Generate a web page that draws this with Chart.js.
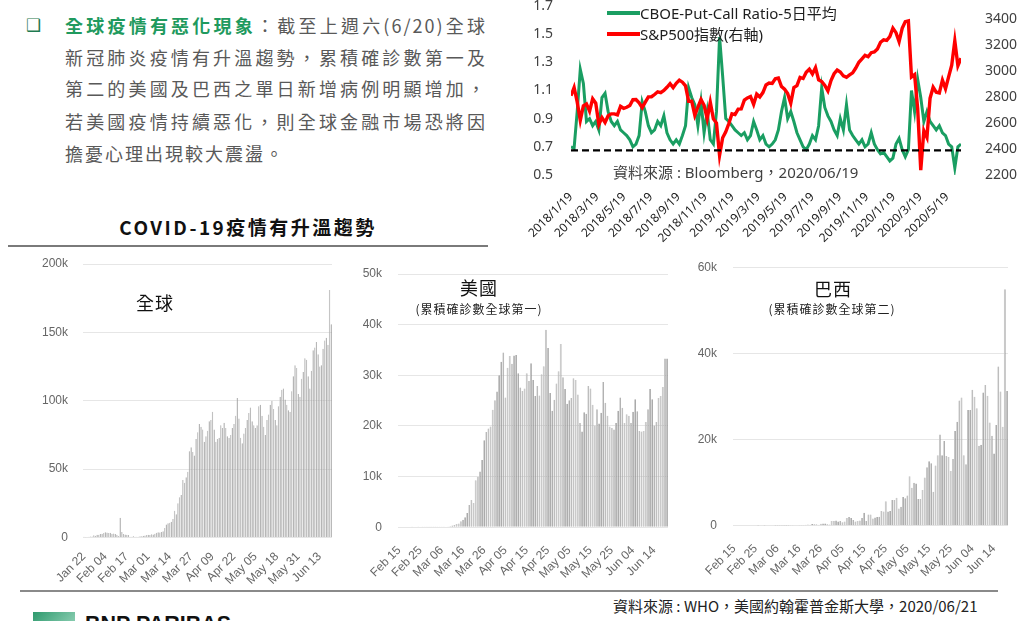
<!DOCTYPE html>
<html><head><meta charset="utf-8">
<script src="https://cdn.jsdelivr.net/npm/chart.js@4.4.1/dist/chart.umd.min.js"></script>
<style>
html,body{margin:0;padding:0;background:#fff;}
body{width:1024px;height:621px;position:relative;overflow:hidden;font-family:"Noto Sans CJK TC","Noto Sans",sans-serif;}
.abs{position:absolute;white-space:nowrap;}
canvas{position:absolute;}
.para{position:absolute;left:65px;width:422px;font-size:18px;letter-spacing:2px;color:#595959;line-height:24px;height:24px;overflow:visible;}
.just{text-align:justify;text-align-last:justify;}
.green{color:#1f9a5e;font-weight:bold;}
.leg{position:absolute;font-family:"Noto Sans","Noto Sans CJK TC",sans-serif;font-size:15px;color:#1e1e1e;line-height:20px;white-space:nowrap;}
.sw{position:absolute;height:4px;width:33px;}
.ctitle{position:absolute;font-size:18px;letter-spacing:1px;color:#111;line-height:24px;white-space:nowrap;transform:translateX(-50%);}
.csub{position:absolute;font-size:12px;letter-spacing:1px;color:#222;line-height:16px;white-space:nowrap;transform:translateX(-50%);}
</style></head>
<body>
<!-- left text -->
<div class="abs" style="left:26px;top:12px;font-size:17px;line-height:26px;color:#1f7a50;font-family:'DejaVu Sans',sans-serif;">❑</div>
<div class="para just" style="top:13px;"><span class="green">全球疫情有惡化現象</span>：截至上週六(6/20)全球</div>
<div class="para just" style="top:45px;">新冠肺炎疫情有升溫趨勢，累積確診數第一及</div>
<div class="para just" style="top:76px;">第二的美國及巴西之單日新增病例明顯增加，</div>
<div class="para just" style="top:109px;">若美國疫情持續惡化，則全球金融市場恐將因</div>
<div class="para" style="top:141px;">擔憂心理出現較大震盪。</div>

<div class="abs" style="left:248px;top:214px;transform:translateX(-50%);font-size:19px;font-weight:bold;letter-spacing:2.5px;color:#111;line-height:26px;">COVID-19疫情有升溫趨勢</div>
<div class="abs" style="left:8px;top:245px;width:480px;height:1.5px;background:#7a7a7a;"></div>

<!-- top right chart -->
<canvas id="pc" width="504" height="253" style="left:520px;top:-3px;"></canvas>
<div class="sw" style="left:607px;top:11px;background:#1a9e62;"></div>
<div class="leg" style="left:640px;top:3px;">CBOE-Put-Call Ratio-5日平均</div>
<div class="sw" style="left:607px;top:32px;background:#ff0000;"></div>
<div class="leg" style="left:640px;top:24px;">S&amp;P500指數(右軸)</div>
<div class="leg" style="left:613px;top:162px;color:#404040;">資料來源 : Bloomberg，2020/06/19</div>

<!-- covid charts -->
<canvas id="g" width="312" height="336" style="left:28px;top:252px;"></canvas>
<canvas id="us" width="333" height="318" style="left:343px;top:262px;"></canvas>
<canvas id="br" width="338" height="325" style="left:678px;top:255px;"></canvas>

<div class="ctitle" style="left:155px;top:290px;">全球</div>
<div class="ctitle" style="left:479px;top:275px;">美國</div>
<div class="csub" style="left:479px;top:301px;">(累積確診數全球第一)</div>
<div class="ctitle" style="left:833px;top:276px;">巴西</div>
<div class="csub" style="left:832px;top:301px;">(累積確診數全球第二)</div>

<div class="abs" style="left:20px;top:590px;width:978px;height:1.5px;background:#8a8a8a;"></div>
<div class="abs" style="left:613px;top:596px;font-size:15px;line-height:20px;color:#222;">資料來源 : WHO，美國約翰霍普金斯大學，2020/06/21</div>

<div class="abs" style="left:33px;top:612px;width:42px;height:14px;background:linear-gradient(135deg,#2f9a6e,#8fd0b5);"></div>
<div class="abs" style="left:85px;top:613px;font-family:'Liberation Sans',sans-serif;font-weight:bold;font-size:21.5px;line-height:22px;color:#111;">BNP PARIBAS</div>

<script>
// ================= DATA =================
// Top-right chart: weekly samples starting 2018/1/19
const pcStartDate = [2018, 1, 19];
const pcTickLabels = ['2018/1/19','2018/3/19','2018/5/19','2018/7/19','2018/9/19','2018/11/19','2019/1/19','2019/3/19','2019/5/19','2019/7/19','2019/9/19','2019/11/19','2020/1/19','2020/3/19','2020/5/19'];
const pcLeftTicks = [0.5, 0.7, 0.9, 1.1, 1.3, 1.5, 1.7];
const spRightTicks = [2200, 2400, 2600, 2800, 3000, 3200, 3400];
const putCallRatio = [
 0.70,0.69,0.95,1.25,1.15,0.88,0.90,0.85,0.88,0.82,
 1.05,1.08,0.95,0.88,0.85,0.88,0.82,0.80,0.78,0.75,
 0.70,0.72,0.78,1.02,0.95,0.85,0.80,0.82,0.88,0.85,
 0.92,0.80,0.75,0.72,0.75,0.72,0.78,0.85,1.12,1.05,
 1.00,0.85,1.02,0.80,0.95,0.75,0.72,0.95,1.48,1.20,
 0.90,0.88,0.85,0.82,0.80,0.78,0.80,0.75,0.78,0.88,
 0.82,0.75,0.78,0.72,0.70,0.72,0.75,0.82,0.95,1.05,
 0.90,0.95,0.88,0.80,0.75,0.70,0.68,0.72,0.78,0.75,
 0.85,1.12,0.98,0.92,0.88,0.82,0.78,0.90,0.82,1.00,
 0.82,0.78,0.75,0.72,0.75,0.70,0.72,0.80,0.72,0.68,
 0.65,0.66,0.63,0.60,0.62,0.72,0.76,0.68,0.63,0.68,
 1.10,0.95,1.18,1.05,0.88,0.95,0.88,0.85,0.82,0.85,
 0.80,0.78,0.72,0.70,0.55,0.70,0.72
];
const sp500 = [
 2810,2873,2762,2620,2732,2747,2691,2786,2752,2588,
 2641,2604,2656,2670,2670,2663,2728,2713,2721,2735,
 2779,2780,2755,2718,2760,2801,2802,2819,2840,2833,
 2850,2875,2902,2872,2905,2930,2914,2886,2767,2768,
 2659,2723,2781,2736,2633,2760,2633,2600,2351,2486,
 2532,2596,2671,2665,2707,2708,2776,2793,2804,2743,
 2822,2801,2834,2893,2907,2905,2940,2946,2881,2860,
 2826,2752,2873,2887,2950,2942,2990,3014,2977,3026,
 2932,2919,2889,2847,2926,2979,3007,2992,2962,2952,
 2970,2986,3023,3067,3093,3120,3110,3141,3146,3169,
 3221,3240,
 3235,3265,3330,3295,3226,3328,3380,3386,2954,2972,
 2711,2237,2541,2489,2790,2875,2837,2831,2930,2864,
 2955,3044,3232,3041,3098
];
const putCallBaseline = 0.675;

// COVID daily new cases (thousands)
const globalStart = '2020-01-22';
const globalTickLabels = ['Jan 22','Feb 04','Feb 17','Mar 01','Mar 14','Mar 27','Apr 09','Apr 22','May 05','May 18','May 31','Jun 13'];
const globalYTicks = [0, 50, 100, 150, 200];
const globalNewCases = [
 0.6,0.1,0.3,0.5,0.7,0.8,1.7,1.2,2.0,2.1,
 2.6,2.8,3.2,3.9,3.7,3.2,3.4,2.7,3.0,2.5,
 2.0,1.1,14.5,4.0,2.5,2.2,2.0,1.8,0.6,0.6,
 1.0,0.5,0.6,0.6,0.9,1.0,1.3,1.4,1.8,2.0,
 1.9,2.4,2.2,2.7,3.5,3.9,3.6,4.0,4.5,7.0,
 9.5,10.5,10.8,11.5,13.5,19.5,17.0,25.0,29.5,31.0,
 42,40,44,48,63,66,62.5,60,72,77,
 83,81,79,70,74,78,85,86,92,79,
 70,72,73,82,80,84,80,74,73,75,
 80,83,89,102,87,73,69,76,80,86,
 91,95,85,82,80,82,96,97,89,81,
 75,86,90,97,100,94,86,82,96,103,
 108,109,101,97,93,92,107,118,126,124,
 105,103,116,121,131,130,118,109,122,137,
 139,143,134,125,126,138,144,146,141,181,
 156
];
const countryStart = '2020-02-15';
const countryTickLabels = ['Feb 15','Feb 25','Mar 06','Mar 16','Mar 26','Apr 05','Apr 15','Apr 25','May 05','May 15','May 25','Jun 04','Jun 14'];
const usYTicks = [0, 10, 20, 30, 40, 50];
const usNewCases = [
 0,0,0,0,0,0,0.002,0,0,0.036,
 0,0.006,0.001,0.002,0.008,0.007,0.023,0.019,0.033,0.077,
 0.053,0.166,0.116,0.075,0.188,0.365,0.439,0.633,0.759,1.2,
 1.5,2.0,2.8,4.4,5.4,4.8,9.3,10.0,11.0,13.3,
 17.2,18.8,19.5,19.9,23.2,25.1,26.8,30.0,32.7,34.5,
 25.6,31.5,33.8,32.3,33.9,34.0,30.4,27.6,26.9,27.4,
 30.4,28.9,32.4,29.1,25.9,27.9,26.0,30.2,31.8,39.0,
 35.4,26.5,23.0,25.2,28.4,30.8,36.2,29.6,27.3,24.4,
 25.1,25.5,29.4,29.1,26.2,20.6,18.9,22.7,22.4,27.9,
 27.4,24.2,20.1,23.3,20.5,22.6,28.7,24.6,22.0,19.9,
 19.6,19.3,20.6,23.0,25.6,23.6,20.6,22.3,22.0,20.6,
 22.8,25.3,22.9,19.0,18.9,19.0,20.8,23.3,27.3,25.3,
 20.1,20.8,25.5,25.9,27.7,33.3,33.3
];
const brYTicks = [0, 20, 40, 60];
const brazilNewCases = [
 0,0,0,0,0,0,0,0,0,0,
 0,0.001,0,0,0.001,0,0,0,0,0.001,
 0.005,0.006,0.006,0.012,0.005,0.009,0.018,0.021,0,0.079,
 0.034,0.057,0.137,0.193,0.283,0.224,0.418,0.345,0.31,0.232,
 0.482,0.502,0.5,0.35,0.3,1.1,1.1,1.2,1.0,1.1,
 0.8,1.0,1.8,2.0,1.8,1.3,1.0,1.1,1.2,1.8,
 3.0,1.1,2.6,2.6,1.7,1.9,2.0,2.1,3.4,3.3,
 5.7,3.3,3.4,6.0,6.0,6.5,4.0,4.4,6.7,6.4,
 7.0,11.5,8.8,10.0,9.8,6.2,6.2,8.3,11.2,13.6,
 15.0,14.5,7.9,14.0,16.4,21.2,16.4,19.7,16.2,16.0,
 12.7,15.5,22.0,24.2,29.1,29.8,16.4,14.3,26.9,26.9,
 31.6,30.0,27.3,18.6,18.8,31.0,32.7,30.2,24.0,20.9,
 16.8,23.4,37.0,31.2,23.0,55.0,31.3
];

// ================= HELPERS =================
const DAY = 86400000;
const pcStartUTC = Date.UTC(pcStartDate[0], pcStartDate[1]-1, pcStartDate[2]);
function dayOffset(label){ const p = label.split('/').map(Number); return Math.round((Date.UTC(p[0],p[1]-1,p[2]) - pcStartUTC)/DAY); }
const pcTickDays = pcTickLabels.map(dayOffset);
const pcSampleDays = putCallRatio.map((v,i)=>i*7);
const pcEnd = pcSampleDays[pcSampleDays.length-1];

const MONTHS = ['Jan','Feb','Mar','Apr','May','Jun','Jul','Aug','Sep','Oct','Nov','Dec'];
function dayLabels(start, n){
  const t0 = Date.parse(start+'T00:00:00Z');
  return Array.from({length:n}, (_,i)=>{ const d = new Date(t0 + i*DAY); return MONTHS[d.getUTCMonth()]+' '+String(d.getUTCDate()).padStart(2,'0'); });
}
function fixV(w){ return (s)=>{ s.width = w; s.paddingTop = 0; s.paddingBottom = 0; }; }
function fixH(h){ return (s)=>{ s.height = h; s.paddingLeft = 0; s.paddingRight = 0; }; }

Chart.defaults.font.family = "'Liberation Sans', Arial, sans-serif";
Chart.defaults.animation = false;

// ================= TOP-RIGHT LINE CHART =================
new Chart(document.getElementById('pc'), {
  type: 'line',
  data: { datasets: [
    { label:'baseline', data:[{x:0,y:putCallBaseline},{x:pcEnd,y:putCallBaseline}], borderColor:'#000', borderWidth:2.2, borderDash:[7,4], pointRadius:0, yAxisID:'y', order:0 },
    { label:'S&P500指數(右軸)', data: sp500.map((v,i)=>({x:pcSampleDays[i], y:v})), borderColor:'#ff0000', borderWidth:3.4, pointRadius:0, yAxisID:'y2', order:1 },
    { label:'CBOE-Put-Call Ratio-5日平均', data: putCallRatio.map((v,i)=>({x:pcSampleDays[i], y:v})), borderColor:'#1a9e62', borderWidth:3, pointRadius:0, yAxisID:'y', order:2 }
  ]},
  options: {
    responsive:false, animation:false,
    layout:{ padding:{ top:9, left:0, right:0, bottom:0 } },
    plugins:{ legend:{display:false}, tooltip:{enabled:false} },
    scales:{
      x:{ type:'linear', min:0, max:pcEnd,
        grid:{display:false, drawTicks:false}, border:{display:false},
        afterBuildTicks:(s)=>{ s.ticks = pcTickDays.map(v=>({value:v})); },
        afterFit: fixH(75),
        ticks:{ autoSkip:false, minRotation:45, maxRotation:45, padding:15, color:'#222', font:{family:"'Noto Sans', sans-serif", size:12},
          callback:(v)=>{ const k = pcTickDays.indexOf(v); return k>=0 ? pcTickLabels[k] : null; } } },
      y:{ position:'left', min:0.5, max:1.7,
        grid:{display:false, drawTicks:false}, border:{display:false},
        afterBuildTicks:(s)=>{ s.ticks = pcLeftTicks.map(v=>({value:v})); },
        afterFit: fixV(51),
        ticks:{ padding:18, color:'#404040', font:{family:"'Noto Sans', sans-serif", size:14}, callback:(v)=>Number(v).toFixed(1) } },
      y2:{ position:'right', min:2200, max:3500,
        grid:{display:false, drawTicks:false}, border:{display:false},
        afterBuildTicks:(s)=>{ s.ticks = spRightTicks.map(v=>({value:v})); },
        afterFit: fixV(63),
        ticks:{ padding:24, color:'#404040', font:{family:"'Noto Sans', sans-serif", size:14}, callback:(v)=>String(v) } }
    }
  }
});

// ================= BAR CHARTS =================
function barChart(id, start, values, yTicks, tickLabels, dims){
  const cats = dayLabels(start, values.length);
  const tickSet = new Set(tickLabels);
  return new Chart(document.getElementById(id), {
    type:'bar',
    data:{ labels:cats, datasets:[{ data:values, backgroundColor:'#c4c4c4', borderColor:'#8c8c8c', borderWidth:{top:0,left:0,bottom:0,right:0.8}, borderSkipped:false, barPercentage:0.86, categoryPercentage:1 }] },
    options:{
      responsive:false, animation:false,
      layout:{ padding:{ top:dims.padTop, right:8, left:0, bottom:0 } },
      plugins:{ legend:{display:false}, tooltip:{enabled:false} },
      scales:{
        x:{ grid:{display:false, drawTicks:false}, border:{display:false},
          afterFit: fixH(dims.xH),
          ticks:{ autoSkip:false, minRotation:45, maxRotation:45, padding:dims.xPad, color:'#666', font:{size:12},
            callback:(v, i)=> tickSet.has(cats[i]) ? cats[i] : null } },
        y:{ min:yTicks[0], max:yTicks[yTicks.length-1],
          grid:{color:'#e6e6e6', lineWidth:1, drawTicks:false}, border:{display:false},
          afterBuildTicks:(s)=>{ s.ticks = yTicks.map(v=>({value:v})); },
          afterFit: fixV(55),
          ticks:{ padding:dims.yPad, color:'#666', font:{size:12}, callback:(v)=> v===0 ? '0' : v+'k' } }
      }
    }
  });
}
barChart('g', globalStart, globalNewCases, globalYTicks, globalTickLabels, {padTop:12, xH:50.5, xPad:12, yPad:15});
barChart('us', countryStart, usNewCases, usYTicks, countryTickLabels, {padTop:12, xH:52.7, xPad:16, yPad:16});
barChart('br', countryStart, brazilNewCases, brYTicks, countryTickLabels, {padTop:12.7, xH:54.3, xPad:16, yPad:16});
</script>
</body></html>
